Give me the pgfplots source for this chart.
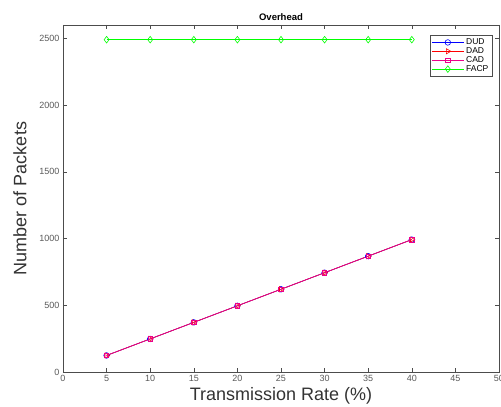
\documentclass[border=0pt]{standalone}
\usepackage{pgfplots}
\pgfplotsset{compat=1.18}
\usepackage{fontspec}
\setmainfont{Liberation Sans}
\begin{document}
\begin{tikzpicture}[x=1pt,y=1pt]
\begin{axis}[
  at={(0,0)}, anchor=south west,
  scale only axis, width=436pt, height=347pt,
  xmin=0, xmax=50, ymin=0, ymax=2600,
  xtick={0,5,...,50}, ytick={0,500,...,2500},
  tick align=inside, ticks=major,
  major tick length=4pt,
  axis line style={draw=black!70},
  every tick/.style={black!70},
  tick label style={font=\fontsize{9}{10}\selectfont, text=black!65},
  /pgf/number format/assume math mode=true,
  scaled ticks=false,
  yticklabel style={/pgf/number format/1000 sep={}},
  xlabel={Transmission Rate (\%)},
  ylabel={Number of Packets},
  label style={font=\fontsize{18}{20}\selectfont, text=black!80},
  xlabel style={yshift=1pt},
  ylabel style={yshift=6pt},
  title={Overhead},
  title style={font=\fontsize{9.5}{10}\selectfont\bfseries, yshift=-5pt},
  legend style={at={(0.984,0.971)}, anchor=north east, font=\fontsize{8.5}{9}\selectfont,
    draw=black!70, inner sep=1.5pt, row sep=-2.5pt, cells={anchor=west}},
  legend image code/.code={\draw[mark repeat=2,mark phase=2,#1] plot coordinates {(0pt,0pt) (16pt,0pt) (32pt,0pt)};},
  legend cell align=left,
  every axis plot/.append style={semithick},
]
\addplot[blue, mark=o, mark options={solid, fill=none}, mark size=2.8pt] coordinates {(5,124)(10,248)(15,372)(20,496)(25,620)(30,744)(35,868)(40,992)};
\addlegendentry{DUD}
\addplot[red, mark=triangle, mark options={rotate=-90, fill=none}, mark size=3pt] coordinates {(5,124)(10,248)(15,372)(20,496)(25,620)(30,744)(35,868)(40,992)};
\addlegendentry{DAD}
\addplot[magenta, mark=square, mark options={fill=none}, mark size=2.2pt] coordinates {(5,124)(10,248)(15,372)(20,496)(25,620)(30,744)(35,868)(40,992)};
\addlegendentry{CAD}
\addplot[green, mark=diamond, mark options={fill=none}, mark size=3.3pt] coordinates {(5,2490)(10,2490)(15,2490)(20,2490)(25,2490)(30,2490)(35,2490)(40,2490)};
\addlegendentry{FACP}
\end{axis}
\pgfresetboundingbox
\path (-63,-35) rectangle (438,372);
\end{tikzpicture}
\end{document}
